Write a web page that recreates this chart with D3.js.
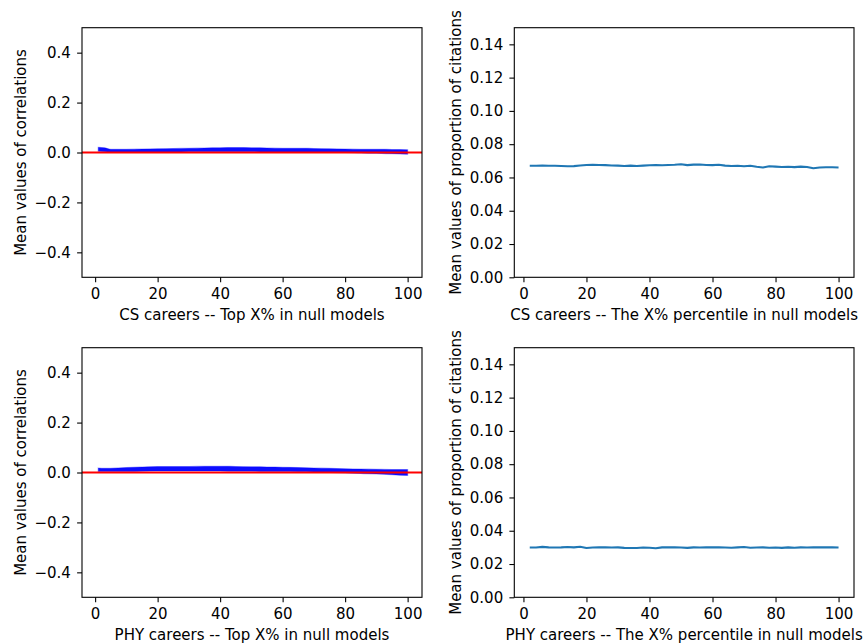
<!DOCTYPE html>
<html><head><meta charset="utf-8">
<script src="https://cdn.jsdelivr.net/npm/d3@7"></script>
<style>body{margin:0;background:#fff}svg{display:block}text{font-family:"DejaVu Sans",sans-serif;fill:#000}</style>
</head><body>
<script>
// ---- data ----
const corrX = [1,3,5,10,15,20,25,30,35,40,45,50,55,60,65,70,75,80,85,90,95,100];
const csCorrUpper  = [0.021,0.019,0.013,0.013,0.014,0.015,0.016,0.017,0.018,0.019,0.020,0.019,0.018,0.017,0.017,0.016,0.015,0.014,0.013,0.013,0.012,0.011];
const csCorrLower  = [0.005,0.003,0.001,0.001,0.001,0.002,0.002,0.003,0.003,0.003,0.003,0.003,0.002,0.002,0.002,0.001,0.000,0.000,-0.002,-0.003,-0.005,-0.007];
const phyCorrUpper = [0.018,0.017,0.017,0.020,0.022,0.024,0.024,0.024,0.025,0.025,0.024,0.023,0.022,0.021,0.020,0.018,0.017,0.015,0.014,0.013,0.012,0.012];
const phyCorrLower = [0.004,0.004,0.004,0.004,0.005,0.006,0.006,0.006,0.006,0.006,0.005,0.005,0.004,0.004,0.003,0.002,0.000,-0.002,-0.004,-0.006,-0.009,-0.012];

const pctX = [2,4,6,8,10,12,14,16,18,20,22,24,26,28,30,32,34,36,38,40,42,44,46,48,50,52,54,56,58,60,62,64,66,68,70,72,74,76,78,80,82,84,86,88,90,92,94,96,98,100];
const csPct = [0.0670,0.0670,0.0671,0.0670,0.0670,0.0669,0.0667,0.0668,0.0672,0.0675,0.0676,0.0675,0.0674,0.0672,0.0671,0.0669,0.0671,0.0669,0.0671,0.0673,0.0674,0.0673,0.0675,0.0676,0.0679,0.0674,0.0677,0.0678,0.0675,0.0674,0.0676,0.0671,0.0669,0.0670,0.0667,0.0670,0.0664,0.0660,0.0667,0.0665,0.0663,0.0664,0.0662,0.0665,0.0663,0.0655,0.0660,0.0661,0.0661,0.0660];
const phyPct = [0.0299,0.0299,0.0303,0.0300,0.0299,0.0300,0.0302,0.0300,0.0304,0.0296,0.0299,0.0300,0.0300,0.0299,0.0300,0.0297,0.0296,0.0296,0.0299,0.0298,0.0295,0.0300,0.0301,0.0300,0.0299,0.0297,0.0300,0.0299,0.0300,0.0301,0.0300,0.0299,0.0298,0.0300,0.0302,0.0298,0.0299,0.0300,0.0298,0.0299,0.0297,0.0300,0.0298,0.0300,0.0299,0.0301,0.0300,0.0300,0.0300,0.0299];

const xTicks = [0,20,40,60,80,100];
const corrTicks = [-0.4,-0.2,0.0,0.2,0.4];
const pctTicks = [0,0.02,0.04,0.06,0.08,0.10,0.12,0.14];

const W = 865, H = 644;
const svg = d3.select("body").append("svg").attr("width",W).attr("height",H);
const FS = 15;
const fmtMinus = s => s.replace("-","\u2212");

function panel(opts){
  const {l,t,r,b,xdom,ydom,yticks,yfmt,xlabel,ylabel,ylabX,id} = opts;
  const x = d3.scaleLinear().domain(xdom).range([l,r]);
  const y = d3.scaleLinear().domain(ydom).range([b,t]);
  const g = svg.append("g");
  g.append("clipPath").attr("id",id).append("rect").attr("x",l).attr("y",t).attr("width",r-l).attr("height",b-t);
  const plot = g.append("g").attr("clip-path",`url(#${id})`);
  opts.draw(plot,x,y);
  // axes
  const xa = d3.axisBottom(x).tickValues(xTicks).tickSize(4.9).tickPadding(6).tickFormat(d3.format("d"));
  const ya = d3.axisLeft(y).tickValues(yticks).tickSize(4.9).tickPadding(6.2).tickFormat(d=>fmtMinus(yfmt(d)));
  const gx = g.append("g").attr("transform",`translate(0,${b})`).call(xa);
  const gy = g.append("g").attr("transform",`translate(${l},0)`).call(ya);
  [gx,gy].forEach(a=>{
    a.select(".domain").remove();
    a.selectAll(".tick line").attr("stroke","#000").attr("stroke-width",1.1);
    a.selectAll(".tick text").attr("font-size",FS).attr("font-family","DejaVu Sans");
  });
  g.append("rect").attr("x",l).attr("y",t).attr("width",r-l).attr("height",b-t)
    .attr("fill","none").attr("stroke","#000").attr("stroke-width",1.1);
  g.append("text").attr("x",(l+r)/2).attr("y",b+43).attr("text-anchor","middle").attr("font-size",FS).text(xlabel);
  g.append("text").attr("transform",`translate(${ylabX},${(t+b)/2}) rotate(-90)`).attr("text-anchor","middle").attr("font-size",FS).text(ylabel);
}

function corrDraw(upper,lower){
  return (plot,x,y)=>{
    const data = corrX.map((d,i)=>({x:d,u:upper[i],l:lower[i]}));
    plot.append("path").datum(data)
      .attr("d",d3.area().x(d=>x(d.x)).y0(d=>y(d.l)).y1(d=>y(d.u)).curve(d3.curveMonotoneX))
      .attr("fill","#0000ff").attr("fill-opacity",0.95)
      .attr("stroke","#0000ff").attr("stroke-opacity",0.35).attr("stroke-width",1.2);
    plot.append("line").attr("x1",x.range()[0]).attr("x2",x.range()[1]).attr("y1",y(0)).attr("y2",y(0))
      .attr("stroke","#ff0000").attr("stroke-width",2.1);
  };
}
function pctDraw(vals){
  return (plot,x,y)=>{
    plot.append("path").datum(pctX.map((d,i)=>[d,vals[i]]))
      .attr("d",d3.line().x(d=>x(d[0])).y(d=>y(d[1])))
      .attr("fill","none").attr("stroke","#1f77b4").attr("stroke-width",2.1).attr("stroke-linejoin","round");
  };
}

const lxd=[-4.2,104.6], rxd=[-2.9,104.9];
const f1 = d=>d3.format(".1f")(d), f2 = d=>d3.format(".2f")(d);
panel({id:"c1",l:82,t:27.7,r:422,b:277.3,xdom:lxd,ydom:[-0.5,0.5],yticks:corrTicks,yfmt:f1,
  xlabel:"CS careers -- Top X% in null models",ylabel:"Mean values of correlations",ylabX:26,draw:corrDraw(csCorrUpper,csCorrLower)});
panel({id:"c2",l:514.3,t:27.7,r:854,b:277.3,xdom:rxd,ydom:[0,0.15],yticks:pctTicks,yfmt:f2,
  xlabel:"CS careers -- The X% percentile in null models",ylabel:"Mean values of proportion of citations",ylabX:461,draw:pctDraw(csPct)});
panel({id:"c3",l:82,t:347.7,r:422,b:597.3,xdom:lxd,ydom:[-0.5,0.5],yticks:corrTicks,yfmt:f1,
  xlabel:"PHY careers -- Top X% in null models",ylabel:"Mean values of correlations",ylabX:26,draw:corrDraw(phyCorrUpper,phyCorrLower)});
panel({id:"c4",l:514.3,t:347.7,r:854,b:597.3,xdom:rxd,ydom:[0,0.15],yticks:pctTicks,yfmt:f2,
  xlabel:"PHY careers -- The X% percentile in null models",ylabel:"Mean values of proportion of citations",ylabX:461,draw:pctDraw(phyPct)});
</script>
</body></html>
